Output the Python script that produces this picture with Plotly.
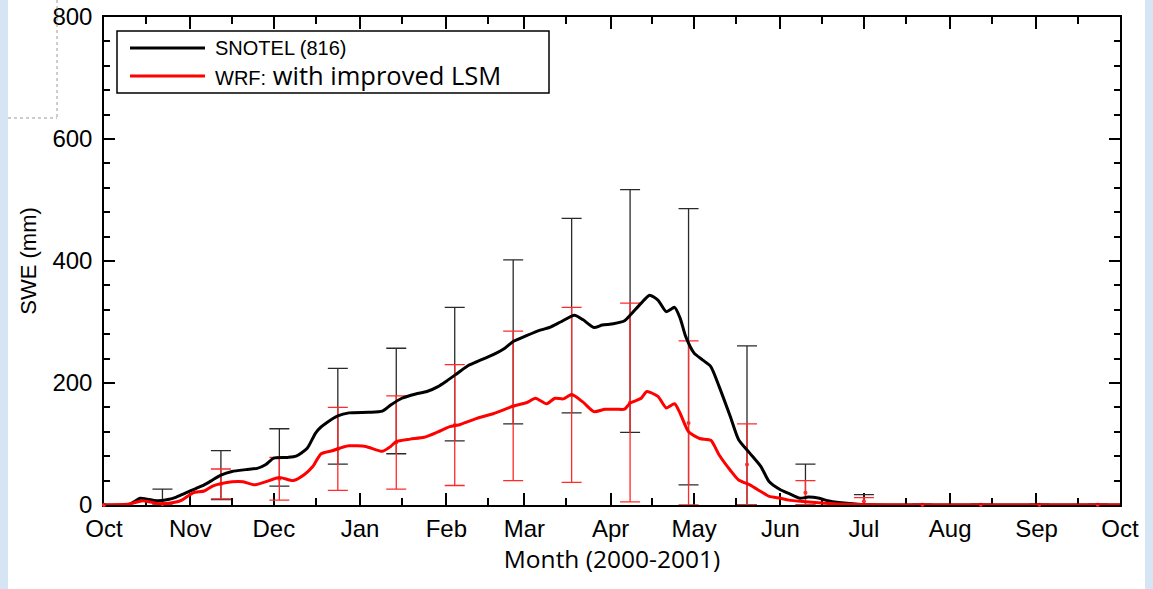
import pandas as pd
import plotly.graph_objects as go

# ---- data -----------------------------------------------------------------
season_start = pd.Timestamp("2000-10-01")

# SNOTEL station 816 daily SWE (mm), given as day offset from 1 Oct 2000
snotel_days = [0, 9, 13, 15, 19, 23, 26, 29, 33, 36, 39, 42, 46, 51, 55, 58, 61, 66, 69, 73,
               76, 78, 80, 84, 88, 95, 100, 103, 107, 112, 116, 120, 123, 127, 131, 134, 140, 144, 147, 152,
               157, 160, 164, 169, 172, 176, 179, 183, 187, 189, 193, 196, 199, 202, 205, 207, 209, 212, 215, 218,
               221, 225, 228, 232, 236, 239, 243, 246, 250, 253, 257, 260, 264, 272, 290, 365]
snotel_swe = [0, 1, 11, 10, 7, 9, 13, 19, 27, 33, 41, 49, 55, 58, 60, 66, 77, 78, 80, 93,
              118, 128, 135, 146, 151, 152, 154, 164, 175, 182, 186, 194, 203, 216, 229, 235, 247, 257, 268, 278,
              287, 291, 300, 311, 304, 291, 295, 297, 302, 311, 331, 344, 336, 317, 324, 306, 276, 249, 238, 227,
              194, 145, 107, 85, 63, 38, 25, 19, 11, 13, 11, 7, 4, 1, 0, 0]

# WRF run with the improved land-surface model
wrf_days = [0, 9, 14, 20, 25, 28, 32, 36, 39, 42, 46, 50, 54, 58, 63, 68, 72, 75, 78, 82,
            86, 88, 94, 100, 103, 105, 110, 115, 120, 124, 128, 131, 134, 140, 147, 152, 155, 159, 162, 165,
            168, 172, 176, 180, 184, 187, 189, 193, 195, 199, 202, 205, 207, 210, 214, 218, 221, 225, 228, 232,
            236, 239, 243, 246, 252, 259, 264, 275, 290, 365]
wrf_swe = [0, 1.5, 7, 2, 4, 8, 20, 23, 31, 35, 38, 38, 33, 38, 45, 40, 50, 63, 84, 89,
           95, 97, 96, 88, 96, 104, 108, 111, 120, 128, 132, 137, 142, 150, 162, 168, 175, 166, 175, 174,
           181, 169, 153, 157, 157, 157, 167, 175, 186, 178, 159, 166, 150, 120, 109, 106, 82, 57, 41, 33,
           22, 14, 11, 8, 5.5, 3, 1.5, 0.5, 0, 0]

# spread ranges every 21 days
bar_days = [0, 21, 42, 63, 84, 105, 126, 147, 168, 189, 210, 231, 252, 273, 294, 315, 336, 357]
snotel_low = [0, 0, 9, 31, 67, 84, 105, 133, 151, 119, 33, 0, 0, 0, 0, 0, 0, 0]
snotel_high = [0, 26, 89, 125, 224, 257, 324, 402, 470, 517, 486, 261, 67, 17, 1, 1, 1, 1]
wrf_low = [0, 0, 10, 8, 24, 26, 32, 40, 37, 5, 0, 0, 0, 0, 0, 0, 0, 0]
wrf_high = [0, 3, 59, 78, 160, 179, 230, 285, 324, 331, 269, 133, 40, 12, 1, 1, 1, 1]

month_labels = ["Oct", "Nov", "Dec", "Jan", "Feb", "Mar", "Apr",
                "May", "Jun", "Jul", "Aug", "Sep", "Oct"]
swe_ticks = [0, 200, 400, 600, 800]


def to_dates(days):
    return season_start + pd.to_timedelta(days, unit="D")


# ---- figure geometry --------------------------------------------------------
W, H = 1153, 589
M_L, M_R, M_T, M_B = 104, 33, 17, 84
PLOT_W = W - M_L - M_R
PLOT_H = H - M_T - M_B


def px_x(px):
    return (px - M_L) / PLOT_W


def px_y(py):
    return (H - M_B - py) / PLOT_H


ARIAL = "Liberation Sans, Arial, sans-serif"
SANS2 = "Open Sans, sans-serif"

fig = go.Figure()


def spread_trace(low, high, color, show_marker):
    mid = [(a + b) / 2 for a, b in zip(low, high)]
    half = [(b - a) / 2 for a, b in zip(low, high)]
    return go.Scatter(
        x=to_dates(bar_days), y=mid, mode="markers",
        marker=dict(size=4 if show_marker else 1, color=color,
                    opacity=1 if show_marker else 0),
        error_y=dict(type="data", symmetric=True, array=half,
                     color=color, thickness=1.3, width=10),
        cliponaxis=False, showlegend=False, hoverinfo="skip",
    )


fig.add_trace(spread_trace(snotel_low, snotel_high, "#2a2a2a", False))
fig.add_trace(spread_trace(wrf_low, wrf_high, "#ff2a2a", True))

fig.add_trace(go.Scatter(x=to_dates(snotel_days), y=snotel_swe, mode="lines",
                         line=dict(color="black", width=3, shape="spline", smoothing=0.6),
                         showlegend=False))
fig.add_trace(go.Scatter(x=to_dates(wrf_days), y=wrf_swe, mode="lines",
                         line=dict(color="#ff0000", width=3, shape="spline", smoothing=0.6),
                         showlegend=False))

month_starts = pd.date_range(season_start, periods=13, freq="MS")
mid_months = month_starts[:-1] + pd.Timedelta(days=15)

fig.update_xaxes(
    type="date", range=[month_starts[0], month_starts[-1]], automargin=False,
    tickmode="array", tickvals=month_starts, ticktext=month_labels,
    ticks="inside", ticklen=12, tickwidth=1.5, tickcolor="black",
    minor=dict(tickmode="array", tickvals=mid_months, ticks="inside",
               ticklen=7, tickwidth=1.5, tickcolor="black", showgrid=False),
    showline=True, linecolor="black", linewidth=1.5, mirror="ticks",
    showgrid=False, zeroline=False, layer="below traces",
    tickfont=dict(family=ARIAL, size=24, color="black"),
    ticklabelstandoff=1,
    title=dict(text="Month (2000-2001)", font=dict(family=SANS2, size=24.5, color="black"),
               standoff=10),
)
fig.update_yaxes(
    range=[0, 800], tickmode="array", tickvals=swe_ticks, automargin=False,
    ticks="inside", ticklen=11, tickwidth=1.5, tickcolor="black",
    minor=dict(dtick=40, ticks="inside", ticklen=6, tickwidth=1.5,
               tickcolor="black", showgrid=False),
    showline=True, linecolor="black", linewidth=1.5, mirror="ticks",
    showgrid=False, zeroline=False, layer="below traces",
    tickfont=dict(family=ARIAL, size=24, color="black"),
    ticklabelstandoff=5,
    title=dict(text="SWE (mm)", font=dict(family=ARIAL, size=22, color="black"),
               standoff=10),
)

shapes = [
    # slide background strips and placeholder frame
    dict(type="rect", xref="paper", yref="paper", x0=px_x(0), x1=px_x(8),
         y0=px_y(H), y1=px_y(0), fillcolor="#d6e5f4", line=dict(width=0), layer="below"),
    dict(type="rect", xref="paper", yref="paper", x0=px_x(1145), x1=px_x(W),
         y0=px_y(H), y1=px_y(0), fillcolor="#d6e5f4", line=dict(width=0), layer="below"),
    dict(type="line", xref="paper", yref="paper", x0=px_x(57), x1=px_x(57),
         y0=px_y(0), y1=px_y(118), line=dict(color="#9a9a9a", width=1, dash="dot")),
    dict(type="line", xref="paper", yref="paper", x0=px_x(8), x1=px_x(57),
         y0=px_y(118), y1=px_y(118), line=dict(color="#9a9a9a", width=1, dash="dot")),
    # legend box and keys
    dict(type="rect", xref="paper", yref="paper", x0=px_x(117), x1=px_x(549),
         y0=px_y(93), y1=px_y(31), fillcolor="white", line=dict(color="black", width=1.5)),
    dict(type="line", xref="paper", yref="paper", x0=px_x(130), x1=px_x(205),
         y0=px_y(48), y1=px_y(48), line=dict(color="black", width=3)),
    dict(type="line", xref="paper", yref="paper", x0=px_x(130), x1=px_x(205),
         y0=px_y(76), y1=px_y(76), line=dict(color="#ff0000", width=3)),
]

annotations = [
    dict(xref="paper", yref="paper", x=px_x(213), y=px_y(48), xanchor="left", yanchor="middle",
         text="SNOTEL (816)", showarrow=False, font=dict(family=ARIAL, size=20, color="black")),
    dict(xref="paper", yref="paper", x=px_x(213), y=px_y(75), xanchor="left", yanchor="middle",
         text="WRF:<span style='font-family:Open Sans;font-size:25.5px'> with improved LSM</span>",
         showarrow=False, font=dict(family=ARIAL, size=20, color="black")),
]

fig.update_layout(
    width=W, height=H, autosize=False,
    margin=dict(l=M_L, r=M_R, t=M_T, b=M_B, pad=0),
    paper_bgcolor="white", plot_bgcolor="white",
    shapes=shapes, annotations=annotations, showlegend=False,
)

fig.write_html("out.html")
